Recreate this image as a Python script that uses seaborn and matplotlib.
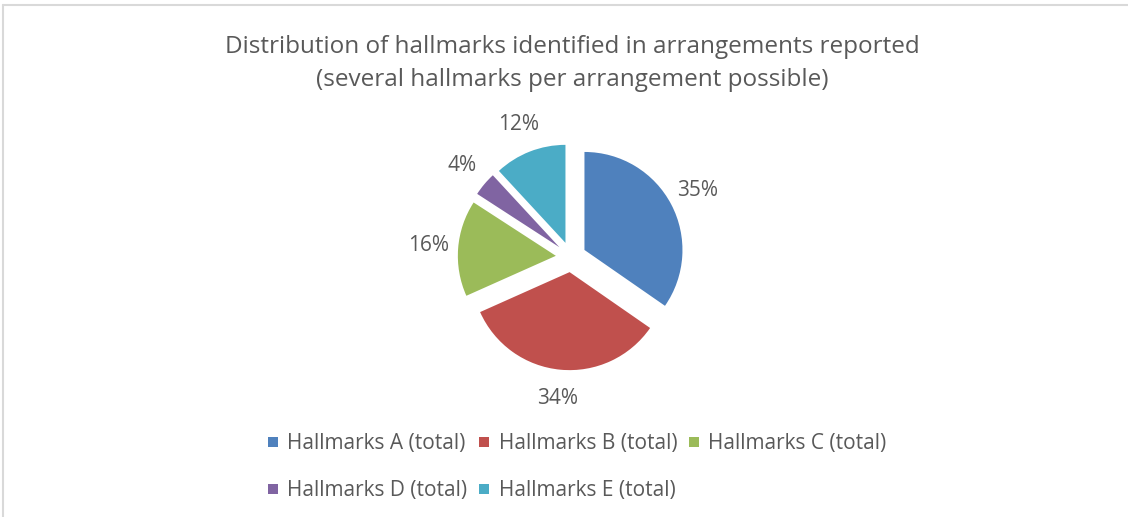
import matplotlib
matplotlib.use("Agg")
import matplotlib.pyplot as plt
import seaborn as sns

# Share of hallmarks (percent) per category
categories = ["Hallmarks A (total)", "Hallmarks B (total)", "Hallmarks C (total)",
              "Hallmarks D (total)", "Hallmarks E (total)"]
shares = [35, 34, 16, 4, 12]
colors = ["#4F81BD", "#C0504D", "#9BBB59", "#8064A2", "#4BACC6"]
title_lines = ["Distribution of hallmarks identified in arrangements reported",
               "(several hallmarks per arrangement possible)"]

sns.set_theme(style="white")
plt.rcParams["font.family"] = ["Open Sans", "DejaVu Sans"]
text_color = "#595959"

W, H = 1128, 517
fig = plt.figure(figsize=(W / 100, H / 100), dpi=100)
fig.patch.set_facecolor("white")

# thin frame along the top and left edge of the chart area
fig.add_artist(plt.Line2D([3 / W, 1], [1 - 5 / H, 1 - 5 / H], transform=fig.transFigure,
                          color="#D9D9D9", lw=1.5))
fig.add_artist(plt.Line2D([3 / W, 3 / W], [0, 1 - 5 / H], transform=fig.transFigure,
                          color="#D9D9D9", lw=1.5))

# pie axes: centre at (571, 257) px, radius ~98 px
cx, cy, R = 571, 257, 98
half = 170
ax = fig.add_axes([(cx - half) / W, (H - cy - half) / H, 2 * half / W, 2 * half / H])

wedges, texts = ax.pie(
    shares,
    colors=colors,
    startangle=90,
    counterclock=False,
    explode=[0.155] * len(shares),
    labels=[f"{v}%" for v in shares],
    labeldistance=1.3,
    radius=1.0,
    wedgeprops=dict(linewidth=0),
    textprops=dict(color=text_color, fontsize=15),
)
for t in texts:
    t.set_horizontalalignment("center")
    t.set_verticalalignment("center")
ax.set_xlim(-half / R, half / R)
ax.set_ylim(-half / R, half / R)
ax.set_aspect("equal")
ax.axis("off")

fig.text(572 / W, 1 - 47 / H, title_lines[0], ha="center", va="center",
         fontsize=17.5, color=text_color)
fig.text(572 / W, 1 - 80 / H, title_lines[1], ha="center", va="center",
         fontsize=17.5, color=text_color)

# legend laid out row-wise: A B C / D E
order = [0, 3, 1, 4, 2]
handles = [plt.Line2D([], [], marker="s", linestyle="", markersize=7.5,
                      markerfacecolor=colors[i], markeredgewidth=0) for i in order]
labels = [categories[i] for i in order]
fig.legend(handles, labels, ncol=3, loc="center", bbox_to_anchor=(577 / W, 1 - 467 / H),
           frameon=False, fontsize=15, labelcolor=text_color,
           handlelength=0.5, handletextpad=0.45, columnspacing=0.55, labelspacing=1.25)

fig.savefig("out.png", dpi=100, facecolor="white")
